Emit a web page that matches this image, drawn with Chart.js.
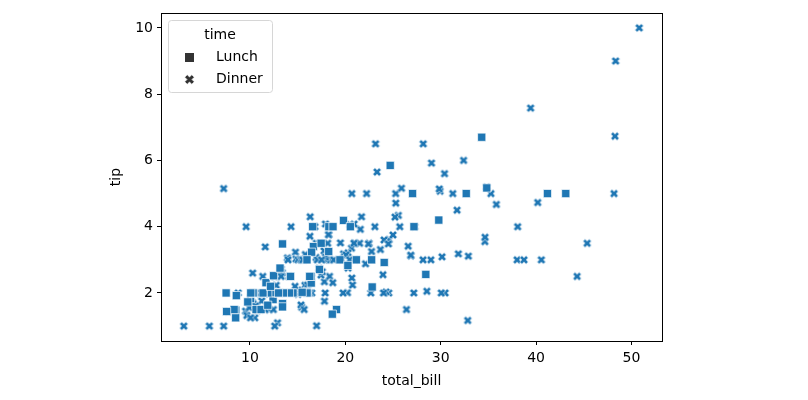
<!DOCTYPE html>
<html>
<head>
<meta charset="utf-8">
<script src="https://cdn.jsdelivr.net/npm/chart.js@4"></script>
<style>
  body { margin: 0; background: #fff; }
  #wrap { width: 808px; height: 400px; }
</style>
</head>
<body>
<div id="wrap"><canvas id="chart" width="808" height="400"></canvas></div>
<script>
// tips data, split by time
const lunchBill = [27.2,22.76,17.29,19.44,16.66,10.07,32.68,15.98,34.83,13.03,18.28,24.71,21.16,
  10.65,12.43,24.08,11.69,13.42,14.26,15.95,12.48,29.8,8.52,14.52,11.38,22.82,19.08,20.27,11.17,12.26,18.26,8.51,10.33,14.15,16.0,13.16,17.47,34.3,41.19,27.05,16.43,8.35,18.64,11.87,9.78,7.51,
  19.81,28.44,15.48,16.58,7.56,10.34,43.11,13.0,13.51,18.71,12.74,13.0,16.4,20.53,16.47,
  12.16,13.42,8.58,15.98,13.42,16.27,10.09];
const lunchTip = [4.0,3.0,2.71,3.0,3.4,1.83,5.0,2.03,5.17,2.0,4.0,5.85,3.0,
  1.5,1.8,2.92,2.31,1.68,2.5,2.0,2.52,4.2,1.48,2.0,2.0,2.18,1.5,2.83,1.5,2.0,3.25,1.25,2.0,2.0,2.0,2.75,3.5,6.7,5.0,5.0,2.3,1.5,1.36,1.63,1.73,2.0,
  4.19,2.56,2.02,4.0,1.44,2.0,5.0,2.0,2.0,4.0,2.01,2.0,2.5,4.0,3.23,
  2.2,3.48,1.92,3.0,1.58,2.5,2.0];

const dinnerBill = [16.99,10.34,21.01,23.68,24.59,25.29,8.77,26.88,15.04,14.78,10.27,35.26,15.42,18.43,14.83,21.58,10.33,16.29,16.97,20.65,
  17.92,20.29,15.77,39.42,19.82,17.81,13.37,12.69,21.7,19.65,9.55,18.35,15.06,20.69,17.78,24.06,16.31,16.93,18.69,31.27,
  16.04,17.46,13.94,9.68,30.4,18.29,22.23,32.4,28.55,18.04,12.54,10.29,34.81,9.94,25.56,19.49,38.01,26.41,11.24,48.27,
  20.29,13.81,11.02,18.29,17.59,20.08,16.45,3.07,20.23,15.01,12.02,17.07,26.86,25.28,14.73,10.51,17.92,
  28.97,22.49,5.75,16.32,22.75,40.17,27.28,12.03,21.01,12.46,11.35,15.38,44.3,22.42,20.92,15.36,20.49,25.21,18.24,14.31,14.0,7.25,38.07,23.95,25.71,17.31,29.93,
  14.07,13.13,17.26,24.55,19.77,29.85,48.17,25.0,13.39,16.49,21.5,12.66,16.21,13.81,17.51,24.52,20.76,31.71,10.59,10.63,50.81,15.81,7.25,31.85,16.82,32.9,17.89,14.48,9.6,34.63,34.65,23.33,45.35,23.17,40.55,20.69,20.9,30.46,18.15,23.1,15.69,
  26.59,38.73,24.27,12.76,30.06,25.89,48.33,13.27,28.17,12.9,28.15,11.59,7.74,30.14,
  20.45,13.28,22.12,24.01,15.69,11.61,10.77,15.53,10.07,12.6,32.83,35.83,29.03,27.18,22.67,17.82,18.78];
const dinnerTip = [1.01,1.66,3.5,3.31,3.61,4.71,2.0,3.12,1.96,3.23,1.71,5.0,1.57,3.0,3.02,3.92,1.67,3.71,3.5,3.35,
  4.08,2.75,2.23,7.58,3.18,2.34,2.0,2.0,4.3,3.0,1.45,2.5,3.0,2.45,3.27,3.6,2.0,3.07,2.31,5.0,
  2.24,2.54,3.06,1.32,5.6,3.0,5.0,6.0,2.05,3.0,2.5,2.6,5.2,1.56,4.34,3.51,3.0,1.5,1.76,6.73,
  3.21,2.0,1.98,3.76,2.64,3.15,2.47,1.0,2.01,2.09,1.97,3.0,3.14,5.0,2.2,1.25,3.08,
  3.0,3.5,1.0,4.3,3.25,4.73,4.0,1.5,3.0,1.5,2.5,3.0,2.5,3.48,4.08,1.64,4.06,4.29,3.76,4.0,3.0,1.0,4.0,2.55,4.0,3.5,5.07,
  2.5,2.0,2.74,2.0,2.0,5.14,5.0,3.75,2.61,2.0,3.5,2.5,2.0,2.0,3.0,3.48,2.24,4.5,1.61,2.0,10.0,3.16,5.15,3.18,4.0,3.11,2.0,2.0,4.0,3.55,3.68,5.65,3.5,6.5,3.0,5.0,3.5,2.0,3.5,4.0,1.5,
  3.41,3.0,2.03,2.23,2.0,5.16,9.0,2.5,6.5,1.1,3.0,1.5,1.44,3.09,
  3.0,2.72,2.88,2.0,3.0,3.39,1.47,3.0,1.25,1.0,1.17,4.67,5.92,2.0,2.0,1.75,3.0];

const xTicks = [10, 20, 30, 40, 50];
const yTicks = [2, 4, 6, 8, 10];

const blue = '#1f77b4';
const font = "'DejaVu Sans', sans-serif";

// filled "X" marker like matplotlib's
function xMarker(color, size) {
  const c = document.createElement('canvas');
  c.width = size; c.height = size;
  const g = c.getContext('2d');
  const h = size / 2 - 0.5, t = size * 0.16;
  g.translate(size / 2, size / 2);
  g.rotate(Math.PI / 4);
  g.beginPath();
  g.moveTo(-t, -h); g.lineTo(t, -h); g.lineTo(t, -t); g.lineTo(h, -t); g.lineTo(h, t);
  g.lineTo(t, t); g.lineTo(t, h); g.lineTo(-t, h); g.lineTo(-t, t); g.lineTo(-h, t);
  g.lineTo(-h, -t); g.lineTo(-t, -t); g.closePath();
  g.fillStyle = color; g.fill();
  g.strokeStyle = '#fff'; g.lineWidth = 0.6; g.stroke();
  return c;
}

const dinnerMark = xMarker(blue, 10);

const frameAndLegend = {
  id: 'frameAndLegend',
  afterDatasetsDraw(chart) {
    const { ctx, chartArea: a } = chart;
    ctx.save();
    ctx.strokeStyle = '#000';
    ctx.lineWidth = 1;
    ctx.strokeRect(Math.round(a.left) + 0.5, Math.round(a.top) + 0.5, Math.round(a.right - a.left), Math.round(a.bottom - a.top));

    // legend box
    const bx = 168.5, by = 20.5, bw = 104, bh = 72;
    ctx.beginPath();
    ctx.roundRect(bx, by, bw, bh, 3);
    ctx.fillStyle = 'rgba(255,255,255,0.8)';
    ctx.fill();
    ctx.strokeStyle = '#d6d6d6';
    ctx.stroke();

    ctx.fillStyle = '#000';
    ctx.font = '14px ' + font;
    ctx.textBaseline = 'middle';
    ctx.textAlign = 'center';
    ctx.fillText('time', 220, 35);
    ctx.textAlign = 'left';
    ctx.fillText('Lunch', 216, 57);
    ctx.fillText('Dinner', 216, 79);

    ctx.fillStyle = '#333';
    ctx.fillRect(185, 53, 9, 9);
    ctx.drawImage(xMarker('#333', 11), 184, 74);
    ctx.restore();
  }
};

new Chart(document.getElementById('chart'), {
  type: 'scatter',
  data: {
    datasets: [
      {
        label: 'Lunch',
        data: lunchBill.map((v, i) => ({ x: v, y: lunchTip[i] })),
        pointStyle: 'rect',
        pointRadius: 5.8,
        backgroundColor: blue,
        borderColor: '#fff',
        borderWidth: 0.7
      },
      {
        label: 'Dinner',
        data: dinnerBill.map((v, i) => ({ x: v, y: dinnerTip[i] })),
        pointStyle: dinnerMark,
        pointRadius: 5,
        backgroundColor: blue,
        borderColor: '#fff'
      }
    ]
  },
  options: {
    responsive: false,
    animation: false,
    events: [],
    layout: { padding: { top: 13, right: 146, left: 104, bottom: 6 } },
    plugins: { legend: { display: false }, tooltip: { enabled: false } },
    scales: {
      x: {
        type: 'linear',
        min: 0.683,
        max: 53.197,
        afterBuildTicks: s => { s.ticks = xTicks.map(v => ({ value: v })); },
        afterFit: s => { s.height = 53; },
        grid: { drawOnChartArea: false, drawTicks: true, tickLength: 4, color: '#000' },
        border: { display: false },
        ticks: { color: '#000', font: { family: font, size: 14 }, padding: 5 },
        title: { display: true, text: 'total_bill', color: '#000', font: { family: font, size: 14 } }
      },
      y: {
        type: 'linear',
        min: 0.55,
        max: 10.45,
        afterBuildTicks: s => { s.ticks = yTicks.map(v => ({ value: v })); },
        afterFit: s => { s.width = 57; },
        grid: { drawOnChartArea: false, drawTicks: true, tickLength: 4, color: '#000' },
        border: { display: false },
        ticks: { color: '#000', font: { family: font, size: 14 }, padding: 4 },
        title: { display: true, text: 'tip', color: '#000', font: { family: font, size: 14 } }
      }
    }
  },
  plugins: [frameAndLegend]
});
</script>
</body>
</html>
